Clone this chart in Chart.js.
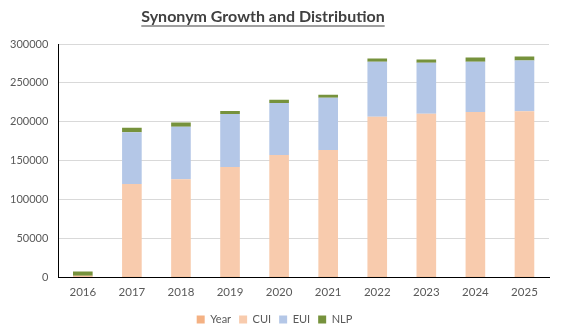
<!DOCTYPE html>
<html>
<head>
<meta charset="utf-8">
<script src="https://cdn.jsdelivr.net/npm/chart.js@4"></script>
<style>
    html, body { margin: 0; padding: 0; background: #fff; }
    #wrap { width: 562px; height: 331px; position: relative; }
</style>
</head>
<body>
<div id="wrap"><canvas id="synonymChart"></canvas></div>
<script>
// Chart data
const years = ['2016', '2017', '2018', '2019', '2020', '2021', '2022', '2023', '2024', '2025'];
const yearValues = [2016, 2017, 2018, 2019, 2020, 2021, 2022, 2023, 2024, 2025];
const cuiValues = [0, 118000, 124000, 139700, 155200, 161700, 204500, 208400, 210500, 211400];
const euiValues = [0, 66500, 67400, 68300, 67000, 67000, 70800, 65600, 64800, 65200];
const nlpValues = [5200, 5600, 5700, 3800, 3900, 3900, 3900, 3900, 5200, 5200];
const yTicks = [0, 50000, 100000, 150000, 200000, 250000, 300000];

const fontFamily = 'Lato, "Liberation Sans", sans-serif';
const textColor = '#595959';

// Underlined title drawn on the canvas
const underlinedTitle = {
    id: 'underlinedTitle',
    afterDraw: function(chart) {
        const ctx = chart.ctx;
        const text = 'Synonym Growth and Distribution';
        ctx.save();
        ctx.font = 'bold 16px ' + fontFamily;
        ctx.fillStyle = '#404040';
        ctx.textAlign = 'center';
        ctx.textBaseline = 'middle';
        const cx = 263;
        ctx.fillText(text, cx, 17);
        const w = ctx.measureText(text).width;
        ctx.strokeStyle = '#404040';
        ctx.lineWidth = 1.2;
        ctx.beginPath();
        ctx.moveTo(cx - w / 2, 26);
        ctx.lineTo(cx + w / 2, 26);
        ctx.stroke();
        ctx.restore();
    }
};

const ctx = document.getElementById('synonymChart');
new Chart(ctx, {
    type: 'bar',
    data: {
        labels: years,
        datasets: [
            { label: 'Year', data: yearValues, backgroundColor: '#F4B183' },
            { label: 'CUI', data: cuiValues, backgroundColor: '#F8CBAD' },
            { label: 'EUI', data: euiValues, backgroundColor: '#B4C7E7' },
            { label: 'NLP', data: nlpValues, backgroundColor: '#76923C' }
        ]
    },
    options: {
        responsive: true,
        maintainAspectRatio: false,
        animation: false,
        datasets: {
            bar: {
                barPercentage: 0.4,
                categoryPercentage: 1.0,
                borderWidth: 0
            }
        },
        layout: {
            padding: { top: 44, left: 0, right: 13, bottom: -4 }
        },
        plugins: {
            title: { display: false },
            tooltip: { enabled: false },
            legend: {
                position: 'bottom',
                labels: {
                    boxWidth: 8,
                    boxHeight: 8,
                    padding: 8,
                    color: textColor,
                    font: { family: fontFamily, size: 11 }
                }
            }
        },
        scales: {
            x: {
                stacked: true,
                grid: { display: false, drawTicks: false },
                border: { color: '#000', width: 1 },
                afterFit: function(scale) {
                    scale.height -= 1;
                },
                ticks: {
                    color: textColor,
                    padding: 8,
                    font: { family: fontFamily, size: 11.5 }
                }
            },
            y: {
                stacked: true,
                min: 0,
                max: 300000,
                afterBuildTicks: function(axis) {
                    axis.ticks = yTicks.map(v => ({ value: v }));
                },
                grid: { color: '#D9D9D9', drawTicks: false },
                border: { color: '#000', width: 1 },
                ticks: {
                    color: textColor,
                    padding: 10,
                    font: { family: fontFamily, size: 11 },
                    callback: function(value) {
                        return String(value);
                    }
                }
            }
        }
    },
    plugins: [underlinedTitle]
});
</script>
</body>
</html>
